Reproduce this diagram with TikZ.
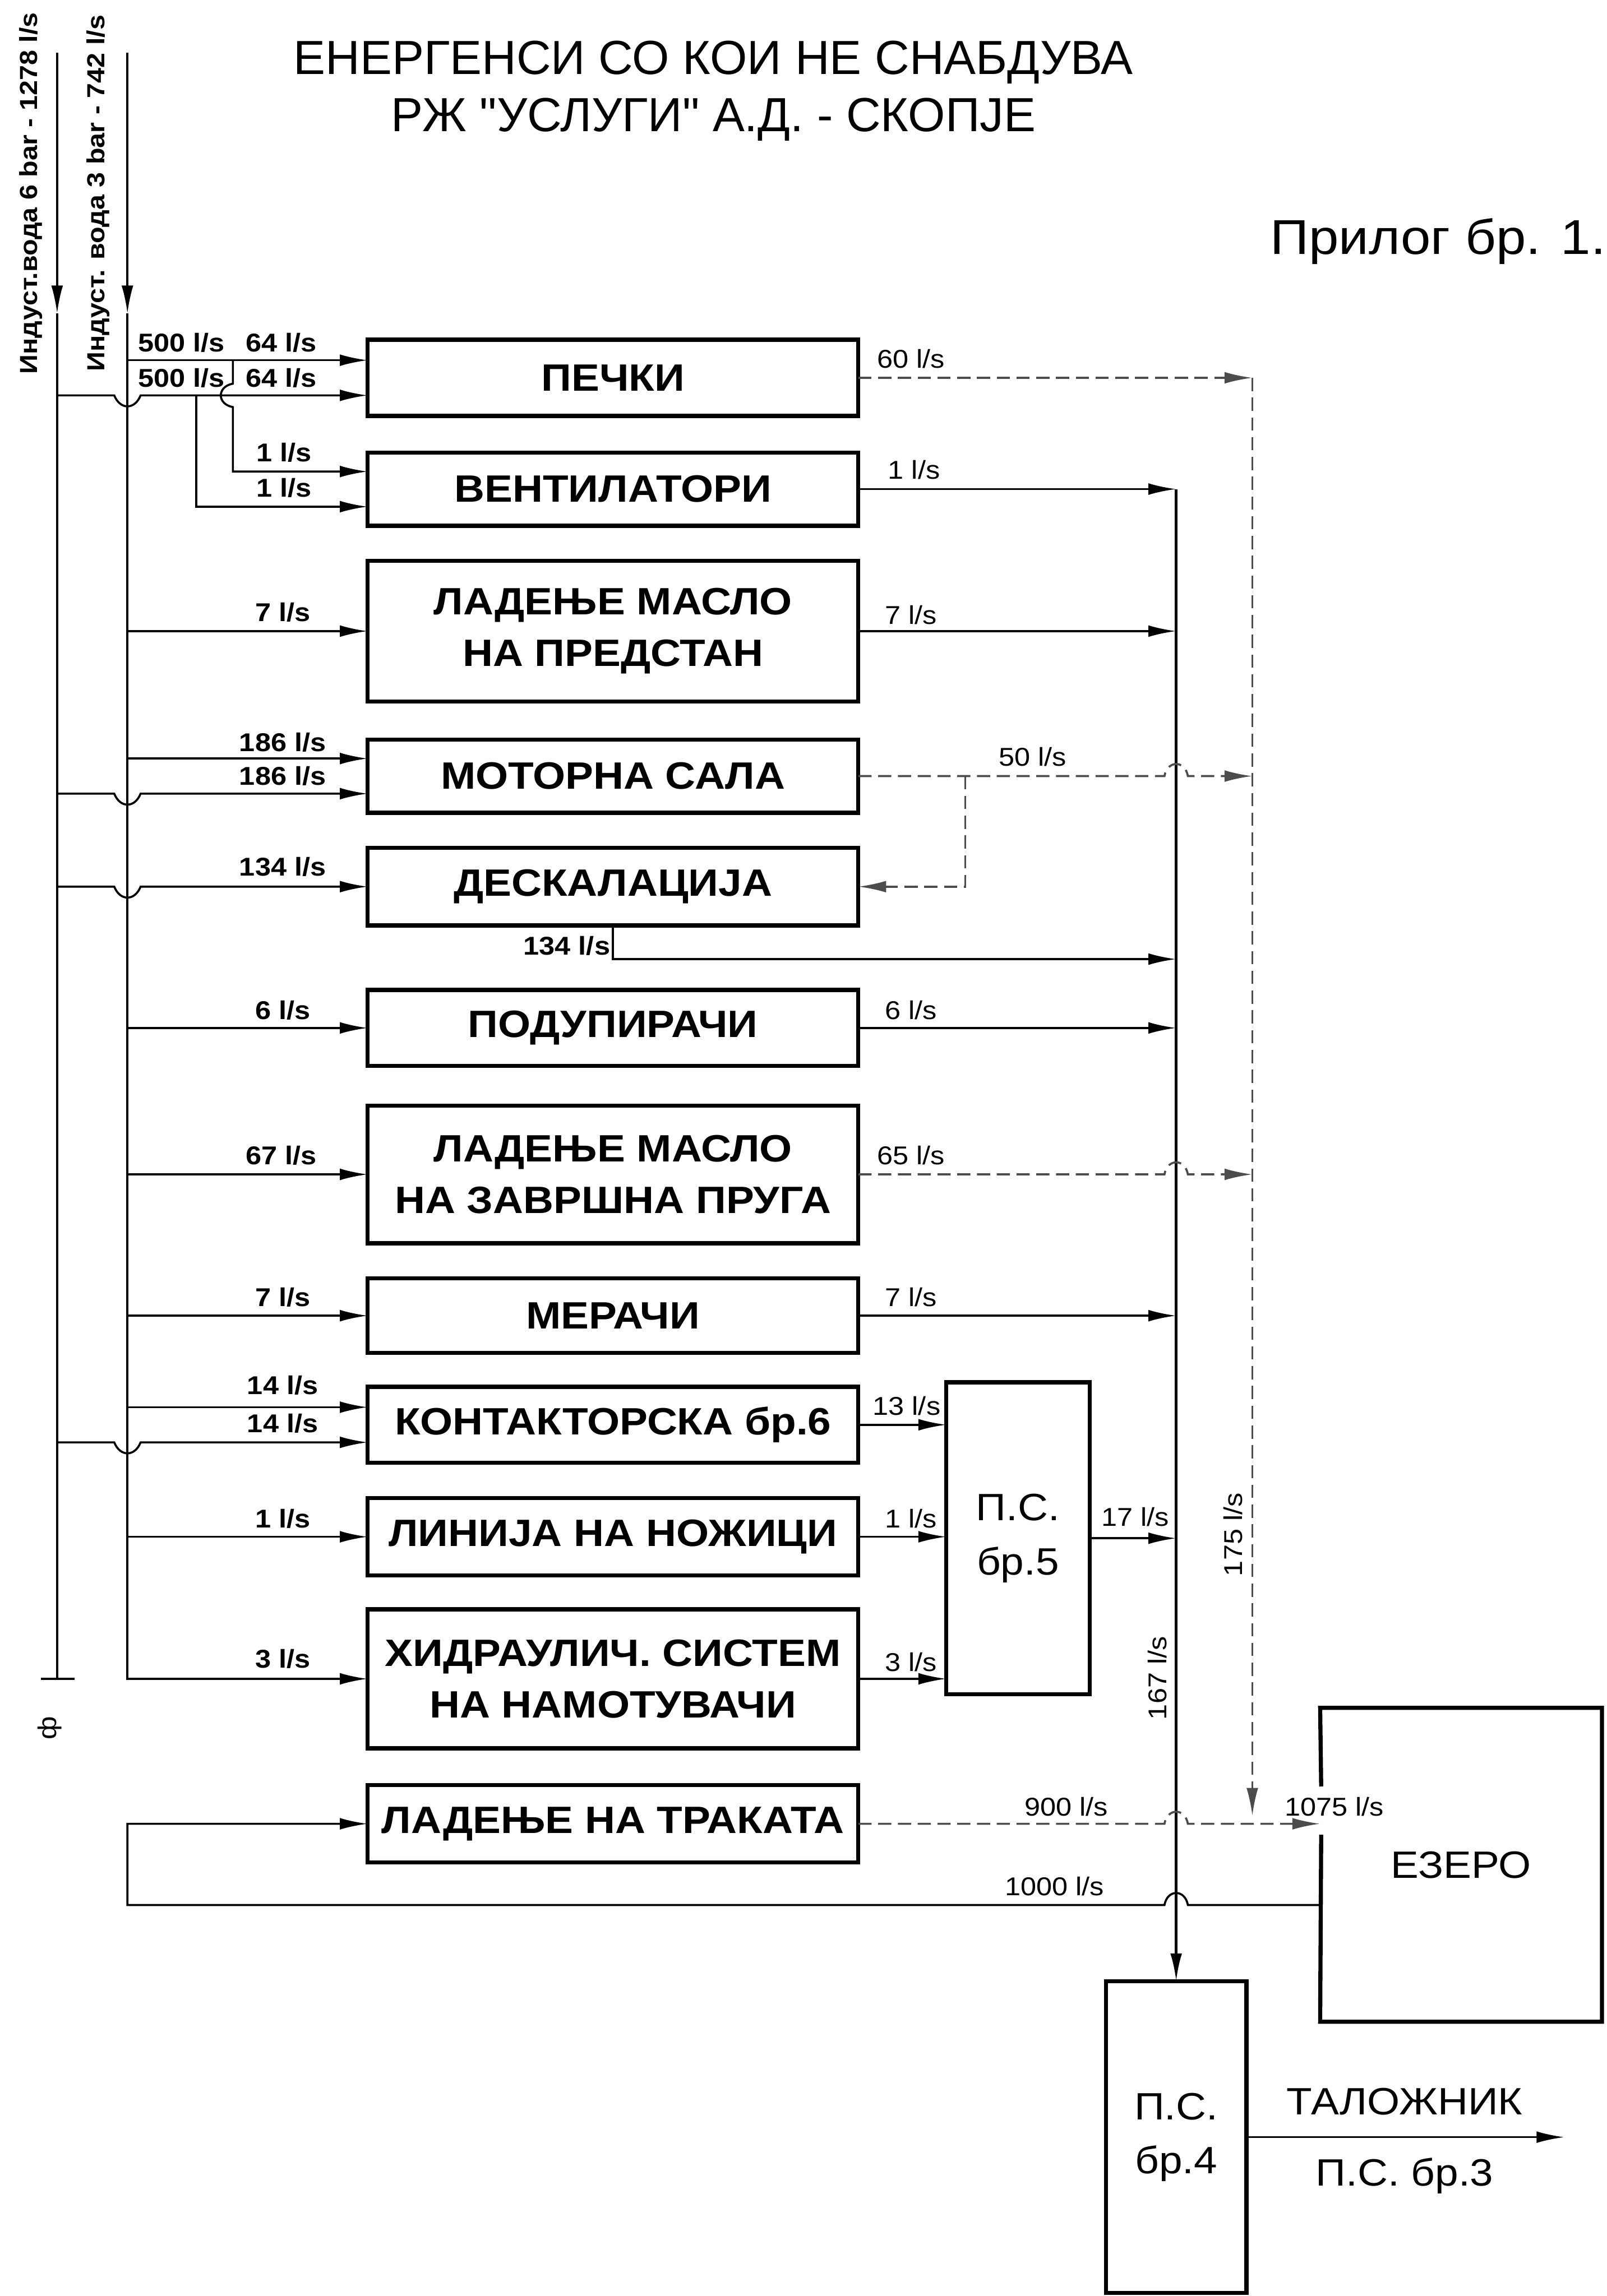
\documentclass[tikz,border=0pt]{standalone}
\usepackage{fontspec}
\setmainfont{Liberation Sans}
\newfontfamily\widefont[FakeStretch=1.1]{Liberation Sans}
\newfontfamily\titlefont[Ligatures=TeXOff]{Liberation Sans}
\usetikzlibrary{arrows.meta,positioning,calc}
\tikzset{
  box/.style={draw, line width=0.8pt, minimum width=33.5mm, inner sep=0pt, outer sep=0pt, align=center, font=\widefont\bfseries\fontsize{7.4}{10}\selectfont},
  bigtxt/.style={inner sep=0pt, align=center, font=\widefont\fontsize{7.4}{10.5}\selectfont},
  station/.style={bigtxt, draw, line width=0.8pt, outer sep=0pt},
  boxline/.style={line width=0.8pt},
  pipe/.style={line width=0.4pt},
  flow/.style={pipe, -{Latex[length=1.9mm,width=0.8mm]}},
  warm/.style={line width=0.4pt, black!70, dash pattern=on 0.9mm off 0.45mm},
  warmflow/.style={warm, -{Latex[length=1.9mm,width=0.8mm]}},
  inlbl/.style={inner sep=0pt, font=\widefont\bfseries\fontsize{5}{6}\selectfont},
  outlbl/.style={inner sep=0pt, font=\widefont\fontsize{5}{6}\selectfont},
}

\begin{document}
\begin{tikzpicture}[x=0.1mm, y=-0.1mm]
  \useasboundingbox (0,0) rectangle (1097,1568);

  % title
  \node[align=center, font=\titlefont\fontsize{9.3}{11.1}\selectfont] (title) at (487,62) {ЕНЕРГЕНСИ СО КОИ НЕ СНАБДУВА\\РЖ "УСЛУГИ" А.Д. - СКОПЈЕ};
  \node[anchor=east, inner sep=0pt, font=\widefont\fontsize{9.5}{11}\selectfont] (prilog) at (1097,165) {Прилог бр. 1.};

  % consumers
  \node[box, minimum height=5.2mm] (pecki) at (418.5,258) {ПЕЧКИ};
  \node[box, minimum height=5mm] (vent) at (418.5,334) {ВЕНТИЛАТОРИ};
  \node[box, minimum height=9.6mm] (predstan) at (418.5,431) {ЛАДЕЊЕ МАСЛО\\НА ПРЕДСТАН};
  \node[box, minimum height=5mm] (motor) at (418.5,530) {МОТОРНА САЛА};
  \node[box, minimum height=5.3mm] (deskal) at (418.5,605.5) {ДЕСКАЛАЦИЈА};
  \node[box, minimum height=5.2mm] (podup) at (418.5,702) {ПОДУПИРАЧИ};
  \node[box, minimum height=9.4mm] (zavrsna) at (418.5,802) {ЛАДЕЊЕ МАСЛО\\НА ЗАВРШНА ПРУГА};
  \node[box, minimum height=5.1mm] (meraci) at (418.5,898.5) {МЕРАЧИ};
  \node[box, minimum height=5.2mm] (kontakt) at (418.5,973) {КОНТАКТОРСКА бр.6};
  \node[box, minimum height=5.3mm] (linija) at (418.5,1049.5) {ЛИНИЈА НА НОЖИЦИ};
  \node[box, minimum height=9.5mm] (hidr) at (418.5,1146.5) {ХИДРАУЛИЧ. СИСТЕМ\\НА НАМОТУВАЧИ};
  \node[box, minimum height=5.3mm] (traka) at (418.5,1245.5) {ЛАДЕЊЕ НА ТРАКАТА};

  % stations and lake
  \node[station, minimum width=9.8mm, minimum height=21.3mm] (ps5) at (695,1050.5) {П.С.\\бр.5};
  \node[station, minimum width=9.6mm, minimum height=21.3mm] (ps4) at (803,1459.5) {П.С.\\бр.4};
  \node[bigtxt, minimum width=19.1mm, minimum height=21.3mm] (ezero) at (997.5,1273.5) {ЕЗЕРО};
  \node[bigtxt] (taloz) at (959,1435) {ТАЛОЖНИК};
  \node[bigtxt] (ps3) at (959,1486) {П.С. бр.3};
  \draw[boxline] (902,1220) -- (ezero.north west) -- (ezero.north east) -- (ezero.south east) -- (ezero.south west) -- (902,1253);

  % supply lines
  \coordinate (s1) at (39,36);
  \coordinate (s2) at (87,36);
  \coordinate (e1) at (s1 |- hidr.west);
  \coordinate (e2) at (s2 |- hidr.west);
  \node[inlbl, rotate=90, font=\widefont\bfseries\fontsize{4.8}{6}\selectfont] (src1) at (21,132) {Индуст.вода 6 bar - 1278 l/s};
  \node[inlbl, rotate=90, font=\widefont\bfseries\fontsize{4.8}{6}\selectfont] (src2) at (67,132) {Индуст. вода 3 bar - 742 l/s};
  \draw[flow] (s1) -- (39,214);
  \draw[pipe] (39,214) -- (e1);
  \draw[pipe] ([xshift=-1.1mm]e1) -- ([xshift=1.2mm]e1);
  \draw[flow] (s2) -- (87,214);
  \draw[flow] (87,214) -- (e2) -- (hidr.west);
  \node[outlbl, rotate=90] (mark) at (34,1180) {ф};

  % inputs
  \coordinate (pk1) at ([yshift=1.2mm]pecki.west);
  \coordinate (pk2) at ([yshift=-1.2mm]pecki.west);
  \coordinate (vt1) at ([yshift=1.2mm]vent.west);
  \coordinate (vt2) at ([yshift=-1.2mm]vent.west);
  \coordinate (mt1) at ([yshift=1.2mm]motor.west);
  \coordinate (mt2) at ([yshift=-1.2mm]motor.west);
  \coordinate (kt1) at ([yshift=1.2mm]kontakt.west);
  \coordinate (kt2) at ([yshift=-1.2mm]kontakt.west);
  \coordinate (j1) at (159,246);
  \coordinate (j2) at (134,270);
  \draw[flow] (s2 |- pk1) -- (pk1);
  \draw[flow] (s1 |- pk2) -- (78,270) .. controls (82,280) and (92,280) .. (96,270) -- (pk2);
  \draw[flow] (j1) -- (159,262) .. controls (148,264) and (148,276) .. (159,278) -- (j1 |- vt1) -- (vt1);
  \draw[flow] (j2) -- (j2 |- vt2) -- (vt2);
  \draw[flow] (s2 |- predstan.west) -- (predstan.west);
  \draw[flow] (s2 |- mt1) -- (mt1);
  \draw[flow] (s1 |- mt2) -- (78,542) .. controls (82,552) and (92,552) .. (96,542) -- (mt2);
  \draw[flow] (s1 |- deskal.west) -- (78,605.5) .. controls (82,615.5) and (92,615.5) .. (96,605.5) -- (deskal.west);
  \draw[flow] (s2 |- podup.west) -- (podup.west);
  \draw[flow] (s2 |- zavrsna.west) -- (zavrsna.west);
  \draw[flow] (s2 |- meraci.west) -- (meraci.west);
  \draw[flow] (s2 |- kt1) -- (kt1);
  \draw[flow] (s1 |- kt2) -- (78,985) .. controls (82,995) and (92,995) .. (96,985) -- (kt2);
  \draw[flow] (s2 |- linija.west) -- (linija.west);

  \node[inlbl] (q1) at (124,234) {500 l/s};
  \node[inlbl] (q2) at (192,234) {64 l/s};
  \node[inlbl] (q3) at (124,258) {500 l/s};
  \node[inlbl] (q4) at (192,258) {64 l/s};
  \node[inlbl] (q5) at (194,309) {1 l/s};
  \node[inlbl] (q6) at (194,333) {1 l/s};
  \node[inlbl] (q7) at (193,418) {7 l/s};
  \node[inlbl] (q8) at (193,507) {186 l/s};
  \node[inlbl] (q9) at (193,530) {186 l/s};
  \node[inlbl] (q10) at (193,592) {134 l/s};
  \node[inlbl] (q11) at (193,690) {6 l/s};
  \node[inlbl] (q12) at (192,789) {67 l/s};
  \node[inlbl] (q13) at (193,886) {7 l/s};
  \node[inlbl] (q14) at (193,946) {14 l/s};
  \node[inlbl] (q15) at (193,972) {14 l/s};
  \node[inlbl] (q16) at (193,1037) {1 l/s};
  \node[inlbl] (q17) at (193,1133) {3 l/s};
  \node[inlbl] (q18) at (387,646) {134 l/s};

  % outputs to P.S. 4
  \coordinate (ctop) at (ps4.north |- vent.east);
  \draw[flow, line width=0.5pt] (ctop) -- (ps4.north);
  \draw[flow] (vent.east) -- (ctop);
  \draw[flow] (predstan.east) -- (ctop |- predstan.east);
  \draw[flow] (deskal.south) |- (ctop |- 0,655);
  \draw[flow] (podup.east) -- (ctop |- podup.east);
  \draw[flow] (meraci.east) -- (ctop |- meraci.east);
  \draw[flow] (ps5.east) -- (ctop |- ps5.east);
  \draw[flow] (kontakt.east) -- (ps5.west |- kontakt.east);
  \draw[flow] (linija.east) -- (ps5.west |- linija.east);
  \draw[flow] (hidr.east) -- (ps5.west |- hidr.east);
  \draw[flow] (ps4.east) -- (ps4.east -| 1068,0);

  % warm water to the lake
  \coordinate (wtop) at (pecki.east -| 855,0);
  \coordinate (wbot) at (855,1240);
  \coordinate (jb) at (659,530);
  \draw[warmflow] (pecki.east) -- (wtop);
  \draw[warmflow] (wtop) -- (wbot);
  \draw[warmflow] (motor.east) -- (795,530) .. controls (797,519) and (809,519) .. (811,530) -- (wtop |- motor.east);
  \draw[warmflow] (jb) -- (jb |- deskal.east) -- (deskal.east);
  \draw[warmflow] (zavrsna.east) -- (795,802) .. controls (797,791) and (809,791) .. (811,802) -- (wtop |- zavrsna.east);
  \draw[warmflow] (traka.east) -- (795,1245.5) .. controls (797,1234.5) and (809,1234.5) .. (811,1245.5) -- (ezero.west |- traka.east);
  \draw[flow] (ezero.west |- 0,1301) -- (811,1301) .. controls (809,1290) and (797,1290) .. (795,1301) -- (s2 |- 0,1301) -- (s2 |- traka.west) -- (traka.west);

  \node[outlbl] (r1) at (622,245) {60 l/s};
  \node[outlbl] (r2) at (624,321) {1 l/s};
  \node[outlbl] (r3) at (622,420) {7 l/s};
  \node[outlbl] (r4) at (705,517) {50 l/s};
  \node[outlbl] (r5) at (622,690) {6 l/s};
  \node[outlbl] (r6) at (622,789) {65 l/s};
  \node[outlbl] (r7) at (622,886) {7 l/s};
  \node[outlbl] (r8) at (619,960) {13 l/s};
  \node[outlbl] (r9) at (622,1037) {1 l/s};
  \node[outlbl] (r10) at (622,1135) {3 l/s};
  \node[outlbl] (r11) at (775,1036) {17 l/s};
  \node[outlbl] (r12) at (728,1234) {900 l/s};
  \node[outlbl] (r13) at (720,1288) {1000 l/s};
  \node[outlbl] (r14) at (911,1234) {1075 l/s};
  \node[outlbl, rotate=90] (r15) at (790,1146) {167 l/s};
  \node[outlbl, rotate=90] (r16) at (842,1048) {175 l/s};
\end{tikzpicture}
\end{document}
